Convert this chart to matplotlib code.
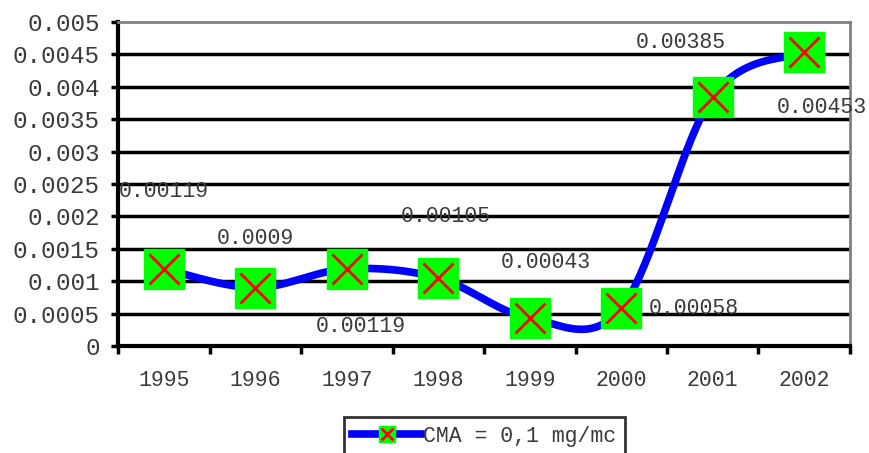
import numpy as np
import matplotlib
matplotlib.use("Agg")
import matplotlib.pyplot as plt
from matplotlib.lines import Line2D

years = ["1995", "1996", "1997", "1998", "1999", "2000", "2001", "2002"]
values = [0.00119, 0.0009, 0.00119, 0.00105, 0.00043, 0.00058, 0.00385, 0.00453]
labels = ["0.00119", "0.0009", "0.00119", "0.00105", "0.00043", "0.00058", "0.00385", "0.00453"]
series_name = "CMA = 0,1 mg/mc"
yticks = [0, 0.0005, 0.001, 0.0015, 0.002, 0.0025, 0.003, 0.0035, 0.004, 0.0045, 0.005]
ytick_labels = ["0", "0.0005", "0.001", "0.0015", "0.002", "0.0025", "0.003", "0.0035", "0.004", "0.0045", "0.005"]

# label offsets in pixels (dx, dy) relative to each point
label_offsets = [(0, 77), (0, 49), (14, -58), (8, 61), (16, 56), (73, 0), (-32, 54), (18, -55)]

FONT = "Liberation Mono"
TXT = "#3a3a3a"

fig = plt.figure(figsize=(8.7, 4.53), dpi=100)
ax = fig.add_axes([118/870, 1-346/453, (850-118)/870, (346-22)/453])

x = np.arange(len(values))
y = np.array(values)

# Excel-style smoothed line (cubic Bezier, Catmull-Rom control points)
def smooth(xs, ys, n=40):
    px, py = [], []
    N = len(xs)
    for i in range(N-1):
        x0, y0 = xs[max(i-1, 0)], ys[max(i-1, 0)]
        x1, y1 = xs[i], ys[i]
        x2, y2 = xs[i+1], ys[i+1]
        x3, y3 = xs[min(i+2, N-1)], ys[min(i+2, N-1)]
        c1x, c1y = x1 + (x2-x0)/6, y1 + (y2-y0)/6
        c2x, c2y = x2 - (x3-x1)/6, y2 - (y3-y1)/6
        t = np.linspace(0, 1, n)
        bx = (1-t)**3*x1 + 3*(1-t)**2*t*c1x + 3*(1-t)*t**2*c2x + t**3*x2
        by = (1-t)**3*y1 + 3*(1-t)**2*t*c1y + 3*(1-t)*t**2*c2y + t**3*y2
        px.extend(bx); py.extend(by)
    return np.array(px), np.array(py)

sx, sy = smooth(x.astype(float), y)

ax.set_xlim(-0.5, len(values)-0.5)
ax.set_ylim(0, 0.005)

for yv in yticks[1:-1]:
    ax.axhline(yv, color="black", lw=2.5, zorder=1)

ax.plot(sx, sy, color="#0000ff", lw=5.5, solid_capstyle="butt", zorder=3)
ax.plot(x, y, linestyle="none", marker="s", markersize=29.5, markerfacecolor="#00ff00",
        markeredgecolor="#00ff00", zorder=4)
ax.plot(x, y, linestyle="none", marker="x", markersize=21, markeredgecolor="#ff0000",
        markeredgewidth=2, zorder=5)

for xi, yi, lab, (dx, dy) in zip(x, y, labels, label_offsets):
    ax.annotate(lab, (xi, yi), xytext=(dx*0.72, dy*0.72), textcoords="offset points",
                ha="center", va="center", fontsize=15.5, family=FONT, color=TXT, zorder=6)

# axes styling
ax.spines["left"].set_linewidth(3)
ax.spines["bottom"].set_linewidth(3)
ax.spines["left"].set_color("black")
ax.spines["bottom"].set_color("black")
ax.spines["right"].set_color("#808080")
ax.spines["top"].set_color("#808080")
ax.spines["right"].set_linewidth(2)
ax.spines["top"].set_linewidth(2)

ax.set_yticks(yticks)
ax.set_yticklabels(ytick_labels, family=FONT, fontsize=17.5, color=TXT)
ax.tick_params(axis="y", length=5, width=2.5, direction="out", pad=8)

ax.set_xticks(np.arange(-0.5, len(values), 1.0))
ax.set_xticklabels([])
ax.tick_params(axis="x", which="major", length=6, width=2.5, direction="out")
ax.set_xticks(x, minor=True)
ax.set_xticklabels(years, minor=True, family=FONT, fontsize=15.5, color=TXT)
ax.tick_params(axis="x", which="minor", length=0, pad=17)

handle = (Line2D([], [], color="#0000ff", lw=5.5),
          Line2D([], [], linestyle="none", marker="s", markersize=11, markerfacecolor="#00ff00", markeredgecolor="#00ff00"),
          Line2D([], [], linestyle="none", marker="x", markersize=8, markeredgecolor="#ff0000", markeredgewidth=2))
leg = fig.legend([handle], [series_name], loc="upper center", bbox_to_anchor=(484.5/870, 1-417/453),
                 borderaxespad=0,
                 prop={"family": FONT, "size": 15.5}, frameon=True, fancybox=False,
                 edgecolor="black", handlelength=3.2, handletextpad=0.1, borderpad=0.4,
                 labelcolor=TXT)
leg.get_frame().set_linewidth(2)

fig.savefig("out.png", dpi=100, facecolor="white")
